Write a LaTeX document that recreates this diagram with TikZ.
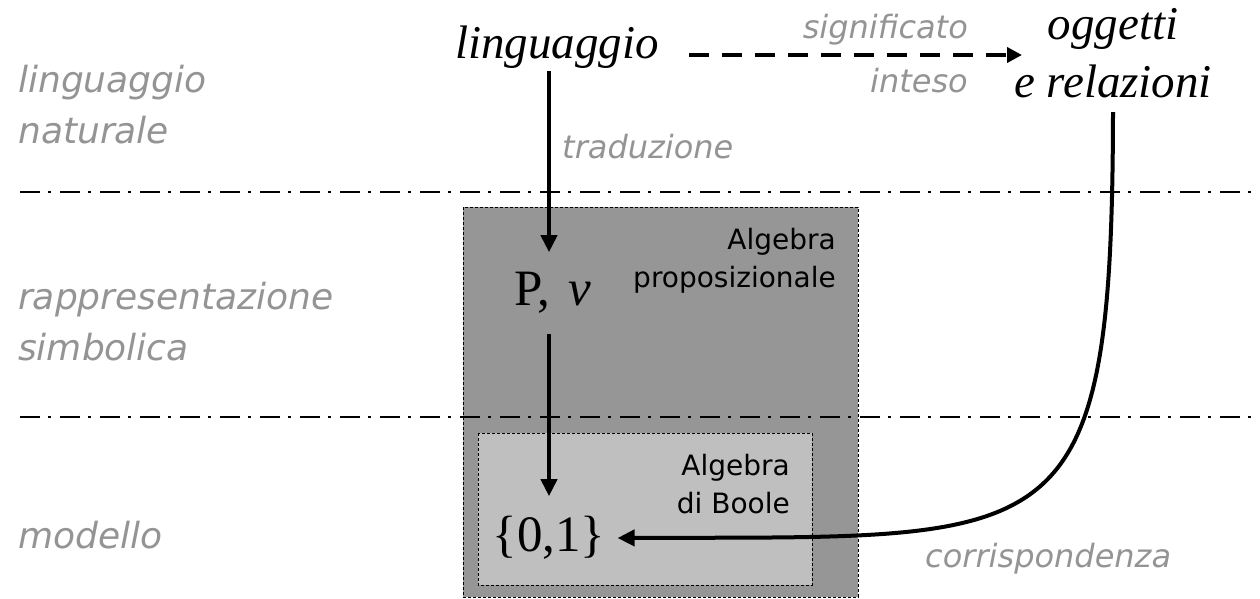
\documentclass[tikz,border=0pt]{standalone}
\usepackage{fontspec}
\setmainfont{Liberation Serif}
\newfontfamily\labelfont{DejaVu Sans}
\usetikzlibrary{arrows.meta}

\definecolor{labgrey}{gray}{0.58}
\definecolor{propfill}{gray}{0.59}
\definecolor{boolfill}{gray}{0.75}

\begin{document}
\begin{tikzpicture}[x=1pt,y=-1pt,
    sidelab/.style={text=labgrey,inner sep=0pt,align=left,
      font=\labelfont\itshape\fontsize{36}{51}\selectfont},
    greylab/.style={text=labgrey,inner sep=0pt,
      font=\labelfont\itshape\fontsize{32}{40}\selectfont},
    alglab/.style={inner sep=0pt,align=right,
      font=\labelfont\fontsize{28}{38}\selectfont},
    termn/.style={inner xsep=0pt,inner ysep=3pt,
      font=\itshape\fontsize{47}{58}\selectfont},
    symbn/.style={inner xsep=12pt,inner ysep=20pt,
      font=\fontsize{51}{60}\selectfont},
    areabox/.style={draw=black,line width=0.8pt,dash pattern=on 3pt off 2pt},
    levelline/.style={line width=2.5pt,dash pattern=on 20pt off 8pt on 3pt off 9pt},
    flow/.style={line width=4pt,-{Triangle[length=17pt,width=16pt]}},
    intent/.style={line width=4.5pt,dash pattern=on 20pt off 13pt,
      -{Triangle[length=15pt,width=15pt]}}]
  \useasboundingbox (0,0) rectangle (1260,598);

  % the two algebras
  \draw[areabox,fill=propfill] (463,207) rectangle (858,597);
  \draw[areabox,fill=boolfill] (478,433) rectangle (812,585);

  % levels
  \draw[levelline] (20,192) -- (1260,192);
  \draw[levelline] (20,417) -- (1260,417);

  \node[sidelab,anchor=base west] (natural) at (18,143) {linguaggio\\naturale};
  \node[sidelab,anchor=base west] (symbolic) at (18,360) {rappresentazione\\simbolica};
  \node[sidelab,anchor=base west] (model) at (18,548) {modello};

  \node[termn,anchor=base west] (lang) at (455,58) {linguaggio};
  \node[termn,align=center,anchor=south,inner ysep=14pt] (obj) at (1113,112)
    {oggetti\\e relazioni};
  \coordinate (meant) at (1022,55);

  \node[symbn] (pv) at (553,293) {P,\hspace{0.12em} \textit{v}};
  \node[symbn] (bool) at (549,538) {\{0,1\}};

  \node[alglab,anchor=base east] (propalg) at (836,287) {Algebra\\proposizionale};
  \node[alglab,anchor=base east] (boolalg) at (790,513) {Algebra\\di Boole};

  \node[greylab,anchor=base east] (sig) at (968,38) {significato};
  \node[greylab,anchor=base east] (int) at (968,92) {inteso};
  \node[greylab,anchor=base west] (trans) at (562,158) {traduzione};
  \node[greylab,anchor=base west] (corr) at (925,567) {corrispondenza};

  % connectors
  \draw[intent] ([shift={(30,-3)}]lang.base east) -- (meant);
  \draw[flow] (lang.south -| bool.north) -- (pv.north -| bool.north);
  \draw[flow] (pv.south -| bool.north) -- (bool.north);
  \draw[flow] (obj.south) .. controls (1112,560) and (1060,536) .. (bool.east);
\end{tikzpicture}
\end{document}
